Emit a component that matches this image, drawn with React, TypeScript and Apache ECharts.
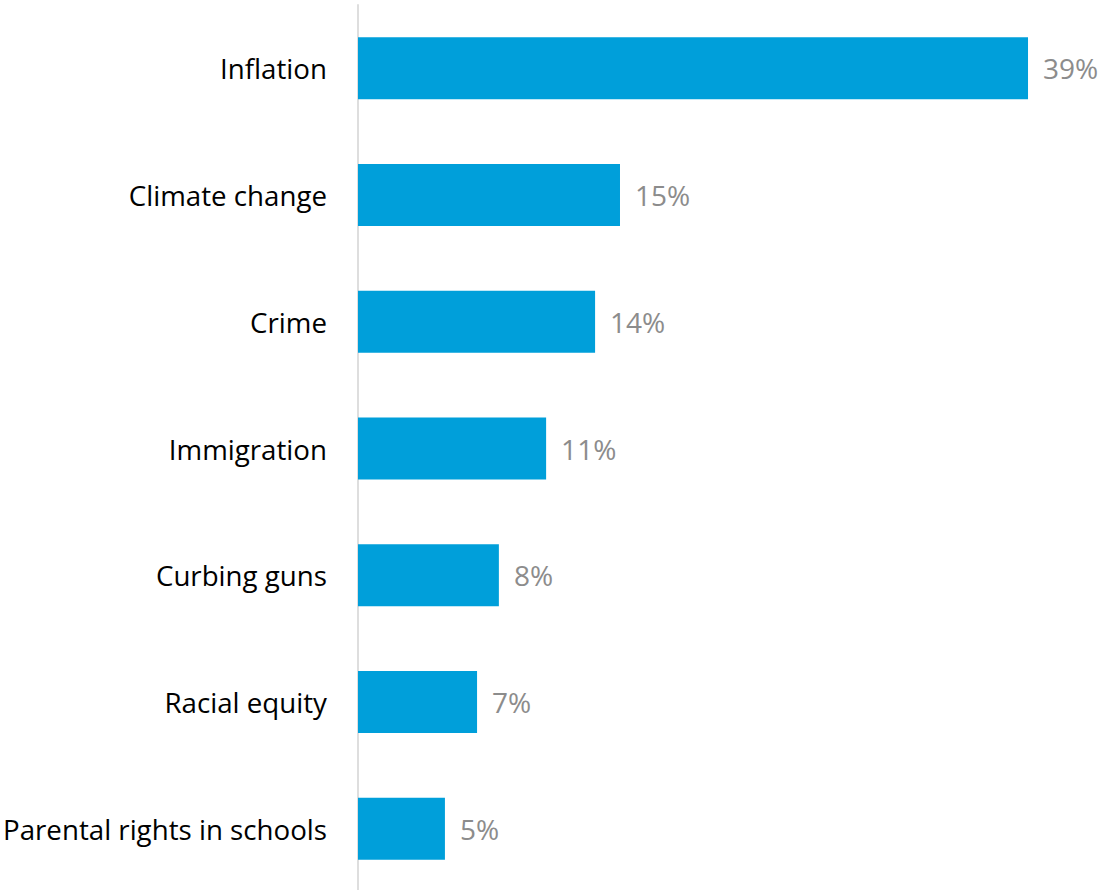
import React, { useEffect, useRef } from "react";
import * as echarts from "echarts";

const categories = [
  "Inflation",
  "Climate change",
  "Crime",
  "Immigration",
  "Curbing guns",
  "Racial equity",
  "Parental rights in schools",
];
const values = [39, 15.25, 13.8, 10.95, 8.2, 6.93, 5.06];

export default function App() {
  const ref = useRef<HTMLDivElement>(null);
  useEffect(() => {
    if (!ref.current) return;
    const chart = echarts.init(ref.current, undefined, { renderer: "svg" });
    chart.setOption({
      animation: false,
      grid: {
        left: 358,
        top: 5,
        width: 687.2,
        height: 887,
        containLabel: false,
        outerBoundsMode: "none",
      },
      xAxis: {
        type: "value",
        min: 0,
        max: 40,
        show: false,
      },
      yAxis: {
        type: "category",
        data: categories,
        inverse: true,
        axisLine: { show: true, lineStyle: { color: "#dedede", width: 2 } },
        axisTick: { show: false },
        axisLabel: {
          color: "#000000",
          fontSize: 27.7,
          fontFamily: "Open Sans",
          margin: 31,
        },
      },
      series: [
        {
          type: "bar",
          data: values,
          barWidth: 62,
          itemStyle: { color: "#009FDA" },
          label: {
            show: true,
            position: "right",
            distance: 15,
            color: "#8c8c8c",
            fontSize: 28,
            fontFamily: "Open Sans",
            formatter: (p: any) => Math.round(p.value) + "%",
          },
        },
      ],
    });
    return () => chart.dispose();
  }, []);
  return (
    <div
      ref={ref}
      style={{ position: "fixed", left: 0, top: 0, width: 1102, height: 890, background: "#fff" }}
    />
  );
}
